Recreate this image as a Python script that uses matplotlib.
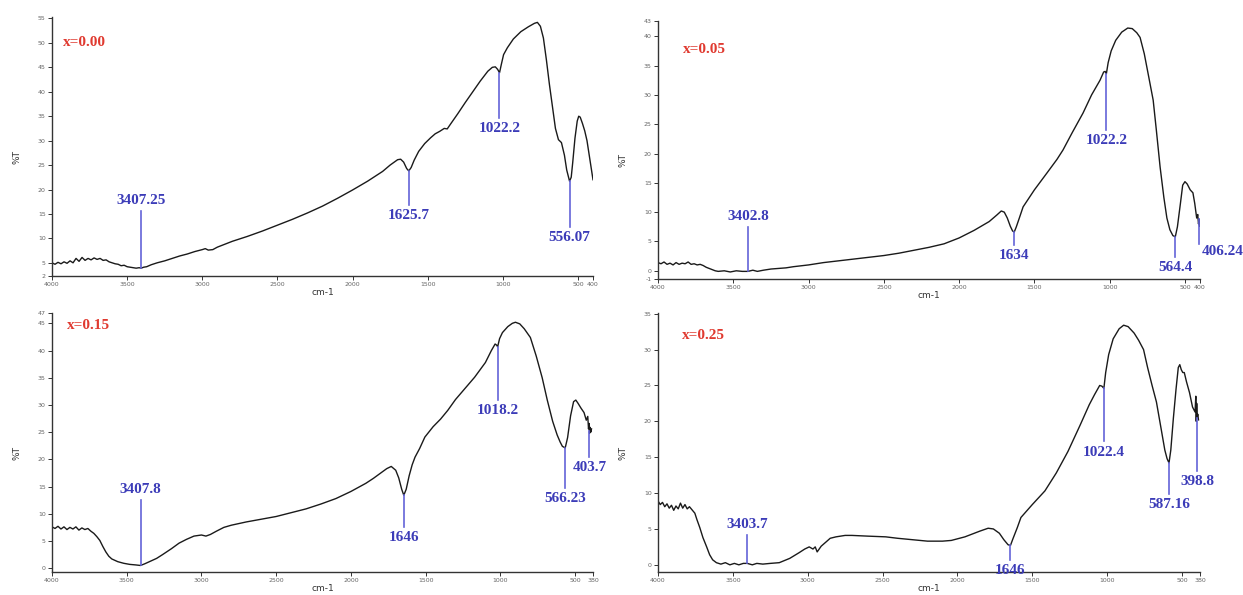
import numpy as np
import matplotlib.pyplot as plt

# ----- FTIR spectra, four compositions -----
samples = ['x=0.00', 'x=0.05', 'x=0.15', 'x=0.25']

# x = 0.00 : wavenumber (cm-1), transmittance (%T)
wn_a = [4000, 3980, 3960, 3940, 3920, 3900, 3880, 3860, 3840, 3820, 3800, 3780, 3760, 3740,
        3720, 3700, 3680, 3660, 3640, 3620, 3600, 3580, 3560, 3540, 3520, 3500, 3480, 3460,
        3440, 3420, 3407, 3390, 3370, 3340, 3300, 3250, 3200, 3150, 3100, 3050, 3000, 2980,
        2960, 2930, 2900, 2850, 2800, 2700, 2600, 2500, 2400, 2300, 2200, 2100, 2000, 1900,
        1800, 1750, 1700, 1680, 1660, 1640, 1626, 1610, 1590, 1560, 1520, 1480, 1450, 1420,
        1390, 1370, 1350, 1300, 1250, 1200, 1150, 1100, 1070, 1050, 1035, 1022, 1010, 995,
        970, 930, 880, 830, 790, 770, 750, 730, 710, 690, 670, 650, 630, 610, 590, 575, 556,
        545, 535, 520, 505, 495, 485, 470, 455, 440, 420, 400]
t_a = [5.0, 4.7, 5.1, 4.8, 5.2, 4.9, 5.4, 5.0, 5.9, 5.3, 6.1, 5.5, 5.9, 5.6,
       6.0, 5.7, 5.9, 5.5, 5.6, 5.2, 5.0, 4.8, 4.7, 4.4, 4.5, 4.2, 4.1, 4.0,
       3.9, 4.0, 3.9, 4.1, 4.2, 4.6, 5.0, 5.4, 5.9, 6.4, 6.8, 7.3, 7.7, 7.9,
       7.6, 7.7, 8.2, 8.8, 9.4, 10.4, 11.5, 12.7, 13.9, 15.2, 16.6, 18.2, 19.9, 21.7,
       23.7, 25.0, 26.1, 26.2, 25.6, 24.3, 23.8, 24.5, 26.0, 27.8, 29.4, 30.6, 31.4, 31.9,
       32.5, 32.4, 33.3, 35.5, 37.8, 40.0, 42.2, 44.2, 45.0, 45.1, 44.6, 43.9, 45.6, 47.6,
       49.0, 50.8, 52.3, 53.3, 54.0, 54.2, 53.4, 51.0, 46.5, 41.5, 37.0, 32.5, 30.2, 29.6,
       27.0, 24.0, 21.7, 22.5, 25.5, 30.5, 34.0, 35.0, 34.8, 33.5, 32.0, 30.0, 26.0, 22.0]

# x = 0.05
wn_b = [4000, 3980, 3960, 3940, 3920, 3900, 3880, 3860, 3840, 3820, 3800, 3780, 3760, 3740,
        3720, 3700, 3680, 3660, 3640, 3620, 3600, 3560, 3520, 3480, 3440, 3403, 3370, 3340,
        3300, 3250, 3200, 3150, 3100, 3000, 2900, 2800, 2700, 2600, 2500, 2400, 2300, 2200,
        2100, 2000, 1900, 1800, 1750, 1720, 1700, 1680, 1660, 1645, 1634, 1620, 1600, 1575,
        1500, 1416, 1350, 1310, 1250, 1177, 1120, 1064, 1040, 1030, 1022, 1010, 990, 960,
        920, 880, 850, 820, 798, 770, 740, 711, 690, 665, 640, 620, 600, 580, 564, 550, 530,
        515, 500, 485, 465, 447, 435, 422, 415, 410, 406, 403, 400]
t_b = [1.4, 1.2, 1.5, 1.1, 1.3, 1.0, 1.4, 1.1, 1.3, 1.2, 1.5, 1.1, 1.2, 1.0,
       1.1, 0.9, 0.6, 0.4, 0.2, 0.0, -0.1, 0.0, -0.2, 0.0, -0.1, -0.1, 0.1, -0.1,
       0.1, 0.3, 0.4, 0.5, 0.7, 1.0, 1.4, 1.7, 2.0, 2.3, 2.6, 3.0, 3.5, 4.0,
       4.6, 5.6, 6.9, 8.4, 9.5, 10.2, 10.0, 9.0, 7.6, 6.8, 6.6, 7.5, 9.0, 10.9,
       13.8, 16.7, 19.0, 20.6, 23.5, 26.9, 30.0, 32.5, 33.9, 34.0, 33.6, 35.5, 37.5, 39.3,
       40.7, 41.4, 41.3, 40.6, 39.8, 37.0, 33.0, 29.1, 24.0, 17.7, 12.5, 9.0, 7.0, 6.0,
       5.8, 7.5, 11.5, 14.6, 15.2, 14.8, 13.8, 13.3, 11.5, 9.0, 9.6, 8.0, 8.8, 7.6, 8.2]

# x = 0.15
wn_c = [4000, 3980, 3960, 3940, 3920, 3900, 3880, 3860, 3840, 3820, 3800, 3780, 3760, 3740,
        3720, 3700, 3680, 3660, 3640, 3620, 3600, 3560, 3520, 3480, 3440, 3408, 3380, 3340,
        3300, 3260, 3200, 3150, 3100, 3050, 3000, 2970, 2940, 2900, 2850, 2800, 2700, 2600,
        2500, 2400, 2300, 2200, 2100, 2000, 1900, 1850, 1800, 1760, 1730, 1700, 1680, 1660,
        1646, 1630, 1610, 1590, 1571, 1540, 1505, 1450, 1400, 1352, 1300, 1250, 1172, 1100,
        1060, 1035, 1025, 1018, 1005, 986, 950, 920, 899, 870, 840, 799, 760, 720, 686, 650,
        620, 600, 585, 566, 550, 530, 510, 495, 480, 460, 440, 425, 415, 410, 406, 403, 400,
        395, 390]
t_c = [7.6, 7.3, 7.7, 7.2, 7.6, 7.1, 7.5, 7.2, 7.6, 7.0, 7.4, 7.1, 7.3, 6.8,
       6.4, 5.8, 5.1, 4.0, 3.0, 2.2, 1.7, 1.2, 0.9, 0.7, 0.6, 0.5, 0.8, 1.3,
       1.8, 2.5, 3.6, 4.6, 5.3, 5.9, 6.1, 5.9, 6.2, 6.8, 7.5, 7.9, 8.5, 9.0,
       9.5, 10.2, 10.9, 11.8, 12.8, 14.1, 15.6, 16.5, 17.5, 18.3, 18.7, 18.0, 16.6, 14.5,
       13.4, 14.5, 17.0, 19.0, 20.4, 22.0, 24.1, 26.0, 27.4, 29.0, 31.0, 32.6, 35.1, 37.8,
       40.0, 41.2, 41.0, 40.7, 42.2, 43.3, 44.4, 45.0, 45.2, 44.9, 44.0, 42.4, 39.0, 35.0,
       30.9, 27.0, 24.5, 23.2, 22.4, 22.1, 24.0, 28.0, 30.6, 30.9, 30.3, 29.4, 28.6, 27.2,
       27.9, 25.6, 26.6, 24.8, 25.9, 25.0, 25.6]

# x = 0.25
wn_d = [4000, 3985, 3970, 3955, 3940, 3925, 3910, 3895, 3880, 3865, 3850, 3835, 3820, 3805,
        3790, 3770, 3754, 3740, 3721, 3700, 3675, 3655, 3635, 3610, 3580, 3550, 3520, 3490,
        3460, 3430, 3404, 3370, 3340, 3300, 3250, 3190, 3120, 3057, 3020, 2990, 2965, 2950,
        2937, 2910, 2877, 2850, 2811, 2750, 2705, 2600, 2479, 2400, 2300, 2200, 2100, 2041,
        1950, 1850, 1795, 1760, 1720, 1690, 1662, 1646, 1630, 1600, 1576, 1500, 1416, 1340,
        1262, 1180, 1120, 1085, 1050, 1035, 1022, 1010, 990, 960, 920, 890, 860, 820, 790,
        757, 730, 700, 671, 640, 615, 600, 587, 575, 558, 540, 525, 515, 505, 495, 485, 470,
        450, 430, 413, 408, 405, 402, 399, 395, 390]
t_d = [8.9, 8.4, 8.7, 8.1, 8.5, 7.9, 8.3, 7.6, 8.2, 7.8, 8.6, 7.9, 8.4, 7.8,
       8.1, 7.6, 7.2, 6.3, 5.2, 3.8, 2.5, 1.4, 0.7, 0.3, 0.1, 0.3, 0.0, 0.2,
       0.0, 0.2, 0.2, 0.0, 0.2, 0.1, 0.2, 0.3, 0.9, 1.7, 2.2, 2.5, 2.2, 2.5,
       1.8, 2.6, 3.2, 3.7, 3.9, 4.1, 4.1, 4.0, 3.9, 3.7, 3.5, 3.3, 3.3, 3.4,
       3.9, 4.7, 5.1, 5.0, 4.4, 3.5, 2.8, 2.7, 3.6, 5.2, 6.6, 8.4, 10.3, 12.8,
       15.8, 19.5, 22.3, 23.7, 25.0, 24.9, 24.6, 26.8, 29.3, 31.5, 32.9, 33.4, 33.2, 32.3, 31.3,
       30.0, 27.5, 25.0, 22.7, 19.0, 16.0, 14.8, 14.2, 16.0, 20.4, 24.5, 27.5, 27.9, 27.2, 26.8, 26.8, 25.5,
       24.0, 22.0, 21.3, 23.5, 20.0, 22.5, 20.5, 21.0, 20.2]

# marked bands (cm-1) and their printed labels
bands_a = [3407.25, 1625.7, 1022.2, 556.07]
names_a = ['3407.25', '1625.7', '1022.2', '556.07']
bands_b = [3402.8, 1634, 1022.2, 564.4, 406.24]
names_b = ['3402.8', '1634', '1022.2', '564.4', '406.24']
bands_c = [3407.8, 1646, 1018.2, 566.23, 403.7]
names_c = ['3407.8', '1646', '1018.2', '566.23', '403.7']
bands_d = [3403.7, 1646, 1022.4, 587.16, 398.8]
names_d = ['3403.7', '1646', '1022.4', '587.16', '398.8']

# ----- layout -----
W, H = 1243, 595
panels = [
    # axes rect in px [x0, y_top, x1, y_bottom], y range, low x end,
    # free ends of the band lines, which side the number sits on, tag position
    dict(wn=wn_a, t=t_a, bands=bands_a, names=names_a, rect=(52, 17, 593, 276),
         ylim=(2.3, 55.3), xend=400, tips=[15.6, 16.9, 34.7, 12.4],
         side=['up', 'down', 'down', 'down'], tag=(0.02, 0.90)),
    dict(wn=wn_b, t=t_b, bands=bands_b, names=names_b, rect=(658, 21, 1200, 279),
         ylim=(-1.4, 42.6), xend=400, tips=[7.5, 4.4, 24.0, 2.4, 4.6],
         side=['up', 'down', 'down', 'down', 'right'], tag=(0.046, 0.89)),
    dict(wn=wn_c, t=t_c, bands=bands_c, names=names_c, rect=(52, 313, 593, 572),
         ylim=(-0.7, 46.9), xend=380, tips=[12.5, 7.6, 30.9, 14.7, 20.4],
         side=['up', 'down', 'down', 'down', 'down'], tag=(0.028, 0.95)),
    dict(wn=wn_d, t=t_d, bands=bands_d, names=names_d, rect=(658, 313, 1200, 572),
         ylim=(-1.0, 35.1), xend=380, tips=[4.1, 0.7, 17.2, 9.9, 13.1],
         side=['up', 'down', 'down', 'down', 'down'], tag=(0.044, 0.915)),
]

blue_line = '#6464d8'
blue_text = '#3c3cb8'
red_text = '#e03a30'
serif = ['Liberation Serif', 'DejaVu Serif']

fig = plt.figure(figsize=(W / 100, H / 100), dpi=100)

for name, p in zip(samples, panels):
    x0, yt, x1, yb = p['rect']
    ax = fig.add_axes([x0 / W, 1 - yb / H, (x1 - x0) / W, (yb - yt) / H])

    wn = np.array(p['wn'], dtype=float)
    t = np.array(p['t'], dtype=float)
    ax.plot(wn, t, color='#1a1a1a', lw=1.0)

    ax.set_xlim(4000, p['xend'])
    ax.set_ylim(*p['ylim'])

    # axes look: left + bottom spines only, small outward ticks
    for s in ['top', 'right']:
        ax.spines[s].set_visible(False)
    for s in ['left', 'bottom']:
        ax.spines[s].set_color('#333333')
        ax.spines[s].set_linewidth(1.0)

    xt = [4000, 3500, 3000, 2500, 2000, 1500, 1000, 500, p['xend']]
    ax.set_xticks(xt)
    ax.set_xticklabels([str(v) for v in xt])

    lo, hi = p['ylim']
    yt_major = list(np.arange(np.ceil(lo / 5) * 5, hi + 0.01, 5))
    yt_all = list(yt_major)
    for end in (lo, hi):
        if min(abs(end - v) for v in yt_major) > 1.0:
            yt_all.append(end)
    yt_all.sort()
    ax.set_yticks(yt_all)
    ax.set_yticklabels(['%d' % round(v) for v in yt_all])
    ax.tick_params(direction='out', length=3, width=0.7, colors='#333333',
                   labelsize=4.5, labelcolor='#666666', pad=1.5)

    ax.set_xlabel('cm-1', fontsize=6.5, color='#333333')
    ax.xaxis.set_label_coords(0.5, -0.048)
    ax.set_ylabel('%T', fontsize=6.5, color='#333333')
    ax.yaxis.set_label_coords(-0.056, 0.46)

    # composition tag
    ax.text(p['tag'][0], p['tag'][1], name, transform=ax.transAxes, color=red_text,
            fontsize=11, fontweight='bold', family=serif, ha='left', va='center')

    # band markers: vertical line from the curve, number at its free end
    order = np.argsort(wn)
    for b, lbl, tip, side in zip(p['bands'], p['names'], p['tips'], p['side']):
        yc = np.interp(b, wn[order], t[order])
        ax.plot([b, b], [yc, tip], color=blue_line, lw=1.2, clip_on=False)
        if side == 'up':
            ax.annotate(lbl, (b, tip), xytext=(0, 3), textcoords='offset points',
                        ha='center', va='bottom', color=blue_text, fontsize=11,
                        fontweight='bold', family=serif, annotation_clip=False)
        elif side == 'down':
            ax.annotate(lbl, (b, tip), xytext=(0, -3), textcoords='offset points',
                        ha='center', va='top', color=blue_text, fontsize=11,
                        fontweight='bold', family=serif, annotation_clip=False)
        else:
            ax.annotate(lbl, (b, tip), xytext=(2, -1), textcoords='offset points',
                        ha='left', va='top', color=blue_text, fontsize=11,
                        fontweight='bold', family=serif, annotation_clip=False)

fig.savefig('out.png', dpi=100)
